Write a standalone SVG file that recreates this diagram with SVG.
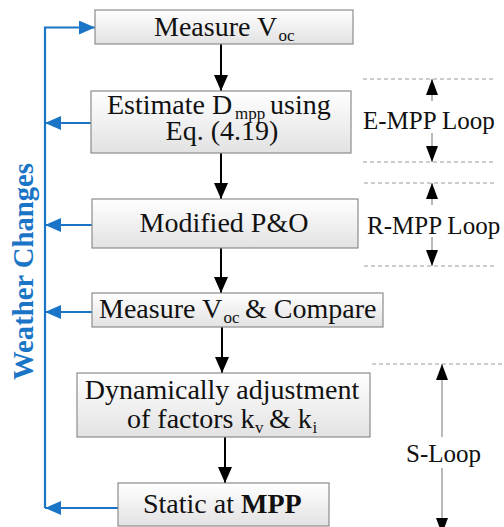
<svg xmlns="http://www.w3.org/2000/svg" width="504" height="527" viewBox="0 0 504 527">
<style>
.box{fill:url(#g);stroke:#8c8c8c;stroke-width:1.2}
.t{font-family:"Liberation Serif","Times New Roman",serif;font-size:28px;fill:#111}
.c{text-anchor:middle}
.lt{font-family:"Liberation Serif","Times New Roman",serif;font-size:25px;fill:#111}
.sub{font-family:"Liberation Serif","Times New Roman",serif;font-size:17px;fill:#111}
.flow{stroke:#000;stroke-width:2;fill:none}
.blue{stroke:#1a75c6;stroke-width:2.2;fill:none}
.dash{stroke:#9a9a9a;stroke-width:1;stroke-dasharray:4 3;fill:none}
.thin{stroke:#8a8a8a;stroke-width:1.2;fill:none}
</style>
<defs>
<linearGradient id="g" x1="0" y1="0" x2="0" y2="1">
<stop offset="0" stop-color="#ffffff"/>
<stop offset="1" stop-color="#e2e2e2"/>
</linearGradient>
<marker id="ah" viewBox="0 0 16 14" refX="16" refY="7" markerWidth="16" markerHeight="14" markerUnits="userSpaceOnUse" orient="auto">
<path d="M0,0 L16,7 L0,14 Z" fill="#000"/>
</marker>
<marker id="bh" viewBox="0 0 16 14" refX="16" refY="7" markerWidth="16" markerHeight="14" markerUnits="userSpaceOnUse" orient="auto">
<path d="M0,0 L16,7 L0,14 Z" fill="#1a75c6"/>
</marker>
<marker id="sh" viewBox="0 0 16 12" refX="16" refY="6" markerWidth="16" markerHeight="12" markerUnits="userSpaceOnUse" orient="auto">
<path d="M0,0 L16,6 L0,12 Z" fill="#000"/>
</marker>
</defs>

<g id="connectors">
<line class="flow" x1="221" y1="44" x2="221" y2="91" marker-end="url(#ah)"/>
<line class="flow" x1="221" y1="153" x2="221" y2="199" marker-end="url(#ah)"/>
<line class="flow" x1="221" y1="248" x2="221" y2="293" marker-end="url(#ah)"/>
<line class="flow" x1="222" y1="327" x2="222" y2="373" marker-end="url(#ah)"/>
<line class="flow" x1="225" y1="437" x2="225" y2="483" marker-end="url(#ah)"/>
<g id="weather-loop">
<polyline class="blue" points="45,508 45,27.5 95,27.5" marker-end="url(#bh)"/>
<line class="blue" x1="91" y1="123" x2="45" y2="123" marker-end="url(#bh)"/>
<line class="blue" x1="92" y1="225" x2="45" y2="225" marker-end="url(#bh)"/>
<line class="blue" x1="92" y1="312" x2="45" y2="312" marker-end="url(#bh)"/>
<line class="blue" x1="118" y1="508" x2="45" y2="508" marker-end="url(#bh)"/>
</g>
</g>

<g id="weather-label">
<text transform="translate(33,380) rotate(-90)" font-family="Liberation Serif, Times New Roman, serif" font-size="28.5" font-weight="bold" fill="#1a75c6" textLength="217" lengthAdjust="spacingAndGlyphs">Weather Changes</text>
</g>

<g id="n1">
<rect class="box" x="95" y="10" width="258" height="34"/>
<text class="t" x="154" y="36">Measure V</text>
<text class="sub" x="278.5" y="41">oc</text>
</g>
<g id="n2">
<rect class="box" x="91" y="91" width="260" height="62"/>
<text class="t" x="107" y="114">Estimate D</text>
<text class="sub" x="235" y="119">mpp</text>
<text class="t" x="270" y="114">using</text>
<text class="t c" x="222" y="140">Eq. (4.19)</text>
</g>
<g id="n3">
<rect class="box" x="92" y="199" width="266" height="49"/>
<text class="t c" x="224" y="232">Modified P&amp;O</text>
</g>
<g id="n4">
<rect class="box" x="92" y="293" width="291" height="34"/>
<text class="t" x="99" y="318">Measure V</text>
<text class="sub" x="223.5" y="323">oc</text>
<text class="t" x="245" y="318">&amp; Compare</text>
</g>
<g id="n5">
<rect class="box" x="77" y="373" width="293" height="64"/>
<text class="t c" x="222" y="399">Dynamically adjustment</text>
<text class="t" x="127" y="428">of factors k</text>
<text class="sub" x="255" y="433">v</text>
<text class="t" x="269" y="428">&amp; k</text>
<text class="sub" x="312.5" y="433">i</text>
</g>
<g id="n6">
<rect class="box" x="118" y="483" width="211" height="43"/>
<text class="t" x="143" y="513">Static at <tspan font-weight="bold">MPP</tspan></text>
</g>

<g id="e-mpp-loop">
<line class="dash" x1="363" y1="79" x2="495" y2="79"/>
<line class="dash" x1="363" y1="162" x2="495" y2="162"/>
<line class="thin" x1="432" y1="101" x2="432" y2="79" marker-end="url(#sh)"/>
<line class="thin" x1="432" y1="133" x2="432" y2="162" marker-end="url(#sh)"/>
<text class="lt" x="363" y="129">E-MPP Loop</text>
</g>
<g id="r-mpp-loop">
<line class="dash" x1="364" y1="183" x2="495" y2="183"/>
<line class="dash" x1="364" y1="266" x2="495" y2="266"/>
<line class="thin" x1="432" y1="205" x2="432" y2="183" marker-end="url(#sh)"/>
<line class="thin" x1="432" y1="237" x2="432" y2="266" marker-end="url(#sh)"/>
<text class="lt" x="367" y="234">R-MPP Loop</text>
</g>
<g id="s-loop">
<line class="dash" x1="372" y1="364" x2="504" y2="364"/>
<line class="thin" x1="442" y1="437" x2="442" y2="364" marker-end="url(#sh)"/>
<line class="thin" x1="442" y1="468" x2="442" y2="534" marker-end="url(#sh)"/>
<text class="lt" x="406" y="462">S-Loop</text>
</g>
</svg>
